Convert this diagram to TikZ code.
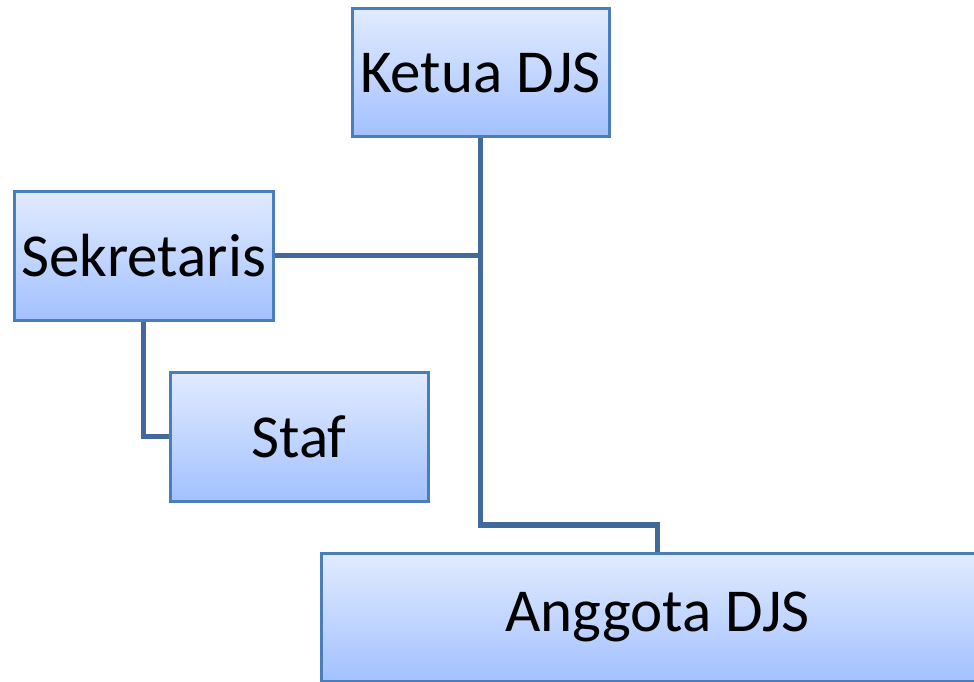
\documentclass[tikz,border=0pt]{standalone}
\usepackage{fontspec}
\setmainfont{Carlito}
\definecolor{boxborder}{HTML}{4A7EBB}
\definecolor{boxtop}{HTML}{E1EBFF}
\definecolor{boxbot}{HTML}{A3C1FF}
\definecolor{linkcol}{HTML}{41699C}
\tikzset{
  orgbox/.style={draw=boxborder, line width=3pt, top color=boxtop, bottom color=boxbot,
    rectangle, inner sep=0pt, font=\fontsize{61pt}{68pt}\selectfont, text=black},
  link/.style={draw=linkcol, line width=5.5pt}
}
\begin{document}
\begin{tikzpicture}[x=1pt,y=-1pt]
\useasboundingbox (0,0) rectangle (974,682);
\clip (0,0) rectangle (974,682);
\node[orgbox, minimum width=257pt, minimum height=128pt] (ketua) at (480.5,73) {Ketua DJS};
\node[orgbox, minimum width=259pt, minimum height=129pt] (sek) at (143.5,255.5) {Sekretaris};
\node[orgbox, minimum width=258pt, minimum height=129pt] (staf) at (299,436.5) {Staf};
\node[orgbox, minimum width=673pt, minimum height=128pt] (ang) at (657.5,617) {Anggota DJS};
\coordinate (bend) at (480.5,525);
\draw[link] (ketua.south) -- (bend) -| (ang.north);
\draw[link] (sek.east) -- (ketua.south |- sek.east);
\draw[link] (sek.south) |- (staf.west);
\end{tikzpicture}
\end{document}
